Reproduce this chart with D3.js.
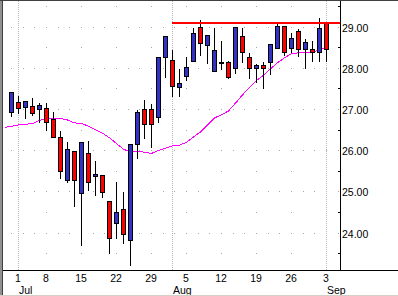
<!DOCTYPE html>
<html><head><meta charset="utf-8">
<script src="https://cdn.jsdelivr.net/npm/d3@7"></script>
<style>
html,body{margin:0;padding:0;background:#fff;overflow:hidden}
svg{display:block}
text{font-family:"Liberation Sans",Arial,sans-serif;font-size:10.5px;fill:#000}
</style></head><body>
<svg id="c" width="398" height="296"></svg>
<script>
// ---- data ----
const dates = ["2013-06-28","2013-07-01","2013-07-02","2013-07-03","2013-07-05",
"2013-07-08","2013-07-09","2013-07-10","2013-07-11","2013-07-12",
"2013-07-15","2013-07-16","2013-07-17","2013-07-18","2013-07-19",
"2013-07-22","2013-07-23","2013-07-24","2013-07-25","2013-07-26",
"2013-07-29","2013-07-30","2013-07-31","2013-08-01","2013-08-02",
"2013-08-05","2013-08-06","2013-08-07","2013-08-08","2013-08-09",
"2013-08-12","2013-08-13","2013-08-14","2013-08-15","2013-08-16",
"2013-08-19","2013-08-20","2013-08-21","2013-08-22","2013-08-23",
"2013-08-26","2013-08-27","2013-08-28","2013-08-29","2013-08-30",
"2013-09-03"];
const open  = [26.92,27.16,27.04,27.06,26.99,27.01,26.75,26.32,25.27,25.99,24.95,25.94,25.38,25.39,24.76,24.24,24.56,23.83,26.16,26.99,26.99,26.80,28.26,28.19,27.54,27.79,28.17,28.99,28.54,27.93,28.14,28.13,27.99,28.76,28.27,27.99,28.07,28.13,28.49,29.02,28.49,28.88,28.45,28.45,28.39,29.08];
const high  = [27.41,27.34,27.22,27.29,27.17,27.16,26.95,26.50,26.22,26.00,26.20,26.24,25.77,25.43,24.76,25.25,25.01,26.17,26.99,27.24,27.14,28.29,28.80,28.45,27.99,28.28,29.00,29.18,28.83,28.98,28.68,28.19,28.99,28.99,28.39,28.11,28.17,28.58,29.11,29.02,28.86,28.96,28.72,28.68,29.24,29.12];
const low   = [26.83,26.89,26.77,26.85,26.69,26.50,26.33,25.32,25.22,24.64,23.69,25.04,24.90,24.86,23.50,23.87,23.74,23.22,25.80,26.30,26.08,26.69,27.78,27.31,27.31,27.71,28.17,28.32,28.12,27.93,27.98,27.76,27.87,28.14,27.74,27.65,27.50,27.85,28.49,28.30,28.38,28.29,27.99,28.17,28.17,28.17];
const close = [27.40,27.03,27.19,26.89,27.09,26.67,26.33,25.50,26.02,25.27,26.19,25.22,25.43,24.99,23.87,24.49,23.97,26.16,26.92,26.63,26.63,28.26,28.77,27.55,27.62,28.01,28.84,28.60,28.80,28.43,28.15,27.77,28.99,28.38,27.99,28.07,27.99,28.58,29.02,28.37,28.72,28.45,28.62,28.39,28.96,28.45];
const ma    = [26.58,26.61,26.63,26.64,26.72,26.77,26.77,26.77,26.73,26.66,26.65,26.58,26.49,26.41,26.30,26.16,26.02,25.96,25.97,25.95,25.92,25.99,26.05,26.10,26.12,26.19,26.32,26.44,26.61,26.78,26.86,26.95,27.14,27.34,27.52,27.69,27.82,27.97,28.12,28.24,28.34,28.36,28.37,28.38,28.43,28.49];
const maPrior = 26.55;           // average of the day before the first bar
const resistance = 29.09;
const resistanceFrom = "2013-08-01";
const yTicks = [24,25,26,27,28,29];
const yTickLabels = ["24.00","25.00","26.00","27.00","28.00","29.00"];
const dayTicks  = ["2013-07-01","2013-07-08","2013-07-15","2013-07-22","2013-07-29","2013-08-05","2013-08-12","2013-08-19","2013-08-26","2013-09-03"];
const dayLabels = ["1","8","15","22","29","5","12","19","26","3"];
const monthTicks  = ["2013-07-01","2013-08-01","2013-09-03"];
const monthLabels = ["Jul","Aug","Sep"];

// ---- layout ----
const W = 398, H = 296;
const plotL = 4.5, plotR = 340.5, axisY = 270.5;
const svg = d3.select("#c");

const x = d3.scalePoint().domain(dates).range([plotL, plotR]).padding(1.5).align(1/3);
const step = x.step();
const y = d3.scaleLinear().domain([24, 29]).range([232.5, 26.5]);
const py = v => Math.round(y(v)) + 0.5;

svg.append("rect").attr("width", W).attr("height", H).attr("fill", "#fff");

// ---- grid ----
const g = svg.append("g").attr("shape-rendering", "crispEdges");
g.selectAll(".hrow").data(yTicks).join("line")
  .attr("x1", x(dates[0]) - 0.5).attr("x2", plotR - 1)
  .attr("y1", d => py(d)).attr("y2", d => py(d))
  .attr("stroke", "#a8a8a8").attr("stroke-dasharray", `1 ${step*5/3 - 1}`);
const halfVals = d3.range(23.5, 29.51, 0.5);
const weekCols = dayTicks.filter(d => !monthTicks.includes(d));
weekCols.forEach(d => {
  g.selectAll(null).data(halfVals).join("rect")
    .attr("x", x(d) - 0.5).attr("y", v => py(v) - 0.5)
    .attr("width", 1).attr("height", 1).attr("fill", "#a8a8a8");
});
g.selectAll(".mline").data(monthTicks).join("line")
  .attr("x1", d => x(d)).attr("x2", d => x(d))
  .attr("y1", 1).attr("y2", axisY - 1)
  .attr("stroke", "#b8b8b8").attr("stroke-dasharray", "1 1");

// ---- moving average ----
const maPts = [[x(dates[0]) - step, maPrior]].concat(dates.map((d, i) => [x(d), ma[i]]));
svg.append("path")
  .attr("d", d3.line().x(p => p[0]).y(p => y(p[1]))(maPts))
  .attr("fill", "none").attr("stroke", "#ff00ff").attr("stroke-width", 1)
  .attr("shape-rendering", "crispEdges");

// ---- candles ----
const bars = dates.map((d, i) => ({d, o: open[i], h: high[i], l: low[i], c: close[i]}));
const cg = svg.append("g").attr("shape-rendering", "crispEdges");
cg.selectAll(".wick").data(bars).join("line")
  .attr("x1", b => x(b.d)).attr("x2", b => x(b.d))
  .attr("y1", b => py(b.h)).attr("y2", b => py(b.l))
  .attr("stroke", "#000");
cg.selectAll(".body").data(bars).join("rect")
  .attr("x", b => x(b.d) - 2).attr("width", 4)
  .attr("y", b => py(Math.max(b.o, b.c)))
  .attr("height", b => Math.max(1, py(Math.min(b.o, b.c)) - py(Math.max(b.o, b.c))))
  .attr("fill", b => b.c >= b.o ? "#3232c8" : "#ff0000")
  .attr("stroke", "#000");

// ---- resistance line ----
svg.append("line")
  .attr("x1", x(resistanceFrom) - 0.5).attr("x2", plotR)
  .attr("y1", Math.round(y(resistance))).attr("y2", Math.round(y(resistance)))
  .attr("stroke", "#ff0000").attr("stroke-width", 2).attr("shape-rendering", "crispEdges");

// ---- axes ----
const ax = svg.append("g").attr("shape-rendering", "crispEdges");
ax.append("line").attr("x1", plotR).attr("x2", plotR).attr("y1", 0).attr("y2", axisY).attr("stroke", "#000");
ax.append("line").attr("x1", 3).attr("x2", W).attr("y1", axisY).attr("y2", axisY).attr("stroke", "#000");
ax.selectAll(".mt").data(d3.range(23.5, 29.51, 1)).join("line")
  .attr("x1", plotR - 2.5).attr("x2", plotR).attr("y1", v => py(v)).attr("y2", v => py(v)).attr("stroke", "#000");

svg.selectAll(".yl").data(yTicks).join("text")
  .attr("x", 342).attr("y", v => py(v) + 4).text((v, i) => yTickLabels[i]);
svg.selectAll(".dl").data(dayTicks).join("text")
  .attr("x", d => x(d) - 0.5).attr("y", 282).attr("text-anchor", "middle").text((d, i) => dayLabels[i]);
svg.selectAll(".ml").data(monthTicks).join("text")
  .attr("x", d => x(d) + 0.5).attr("y", 294).text((d, i) => monthLabels[i]);

// window border
const fr = svg.append("g").attr("shape-rendering", "crispEdges");
fr.append("rect").attr("x", 0).attr("y", 0).attr("width", 2).attr("height", H).attr("fill", "#909090");
fr.append("rect").attr("x", 2).attr("y", 0).attr("width", 1).attr("height", H).attr("fill", "#404040");
fr.append("rect").attr("x", 0).attr("y", 0).attr("width", W).attr("height", 1).attr("fill", "#404040");
fr.append("rect").attr("x", 0).attr("y", 295).attr("width", W).attr("height", 1).attr("fill", "#d4d0c8");
</script>
</body></html>
